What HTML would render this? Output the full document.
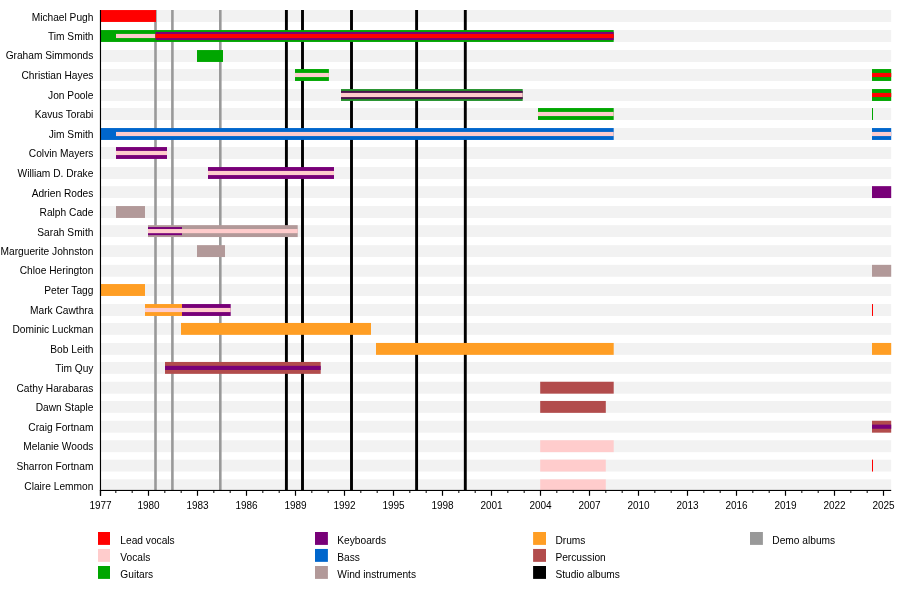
<!DOCTYPE html>
<html><head><meta charset="utf-8"><title>Timeline</title>
<style>
html,body{margin:0;padding:0;background:#fff}
body{width:900px;height:590px;position:relative;overflow:hidden;font-family:"Liberation Sans",sans-serif;font-size:10.2px;color:#000;line-height:12px}
.n{position:absolute;left:0;width:93.4px;text-align:right;white-space:nowrap;height:12px}
.y{font-size:10px;position:absolute;top:500.2px;width:40px;text-align:center;height:12px}
.l{font-size:10.2px;position:absolute;white-space:nowrap;height:12px}
</style></head><body>
<svg width="900" height="590" viewBox="0 0 900 590" style="position:absolute;left:0;top:0">
<rect x="100" y="10.05" width="791.20" height="11.90" fill="#f2f2f2"/>
<rect x="100" y="30.05" width="791.20" height="11.90" fill="#f2f2f2"/>
<rect x="100" y="50.05" width="791.20" height="11.90" fill="#f2f2f2"/>
<rect x="100" y="69.05" width="791.20" height="11.90" fill="#f2f2f2"/>
<rect x="100" y="89.05" width="791.20" height="11.90" fill="#f2f2f2"/>
<rect x="100" y="108.05" width="791.20" height="11.90" fill="#f2f2f2"/>
<rect x="100" y="128.05" width="791.20" height="11.90" fill="#f2f2f2"/>
<rect x="100" y="147.05" width="791.20" height="11.90" fill="#f2f2f2"/>
<rect x="100" y="167.05" width="791.20" height="11.90" fill="#f2f2f2"/>
<rect x="100" y="186.15" width="791.20" height="11.90" fill="#f2f2f2"/>
<rect x="100" y="206.05" width="791.20" height="11.90" fill="#f2f2f2"/>
<rect x="100" y="225.15" width="791.20" height="11.90" fill="#f2f2f2"/>
<rect x="100" y="245.15" width="791.20" height="11.90" fill="#f2f2f2"/>
<rect x="100" y="264.85" width="791.20" height="11.90" fill="#f2f2f2"/>
<rect x="100" y="284.05" width="791.20" height="11.90" fill="#f2f2f2"/>
<rect x="100" y="304.05" width="791.20" height="11.90" fill="#f2f2f2"/>
<rect x="100" y="322.95" width="791.20" height="11.90" fill="#f2f2f2"/>
<rect x="100" y="342.95" width="791.20" height="11.90" fill="#f2f2f2"/>
<rect x="100" y="361.95" width="791.20" height="11.90" fill="#f2f2f2"/>
<rect x="100" y="381.75" width="791.20" height="11.90" fill="#f2f2f2"/>
<rect x="100" y="400.95" width="791.20" height="11.90" fill="#f2f2f2"/>
<rect x="100" y="420.75" width="791.20" height="11.90" fill="#f2f2f2"/>
<rect x="100" y="440.25" width="791.20" height="11.90" fill="#f2f2f2"/>
<rect x="100" y="459.65" width="791.20" height="11.90" fill="#f2f2f2"/>
<rect x="100" y="479.35" width="791.20" height="10.65" fill="#f2f2f2"/>
<rect x="154.20" y="10.0" width="2.6" height="480.0" fill="#999999"/>
<rect x="171.10" y="10.0" width="2.6" height="480.0" fill="#999999"/>
<rect x="219.00" y="10.0" width="2.6" height="480.0" fill="#999999"/>
<rect x="284.95" y="10.0" width="2.9" height="480.0" fill="#000"/>
<rect x="301.05" y="10.0" width="2.9" height="480.0" fill="#000"/>
<rect x="350.05" y="10.0" width="2.9" height="480.0" fill="#000"/>
<rect x="415.15" y="10.0" width="2.9" height="480.0" fill="#000"/>
<rect x="463.85" y="10.0" width="2.9" height="480.0" fill="#000"/>
<rect x="100.00" y="10.05" width="56.00" height="11.90" fill="#ff0000"/>
<rect x="100.00" y="30.05" width="513.70" height="11.90" fill="#00a600"/>
<rect x="116.00" y="33.92" width="39.50" height="4.15" fill="#ffcccc"/>
<rect x="155.50" y="31.95" width="458.20" height="8.10" fill="#780078"/>
<rect x="155.50" y="33.92" width="458.20" height="4.15" fill="#ff0000"/>
<rect x="197.00" y="50.05" width="26.00" height="11.90" fill="#00a600"/>
<rect x="295.00" y="69.05" width="33.90" height="11.90" fill="#00a600"/>
<rect x="295.00" y="72.92" width="33.90" height="4.15" fill="#ffcccc"/>
<rect x="872.00" y="69.05" width="19.20" height="11.90" fill="#00a600"/>
<rect x="872.00" y="72.92" width="19.20" height="4.15" fill="#ff0000"/>
<rect x="341.00" y="89.05" width="181.70" height="11.90" fill="#22902a"/>
<rect x="341.00" y="90.95" width="181.70" height="8.10" fill="#4b154b"/>
<rect x="341.00" y="92.92" width="181.70" height="4.15" fill="#ffcccc"/>
<rect x="872.00" y="89.05" width="19.20" height="11.90" fill="#00a600"/>
<rect x="872.00" y="92.92" width="19.20" height="4.15" fill="#ff0000"/>
<rect x="538.00" y="108.05" width="75.70" height="11.90" fill="#00a600"/>
<rect x="538.00" y="111.92" width="75.70" height="4.15" fill="#ffcccc"/>
<rect x="872.00" y="108.05" width="1.00" height="11.90" fill="#00a600"/>
<rect x="100.00" y="128.05" width="513.70" height="11.90" fill="#0066cc"/>
<rect x="116.00" y="131.93" width="497.70" height="4.15" fill="#ffcccc"/>
<rect x="872.00" y="128.05" width="19.20" height="11.90" fill="#0066cc"/>
<rect x="872.00" y="131.93" width="19.20" height="4.15" fill="#ffcccc"/>
<rect x="116.00" y="147.05" width="51.00" height="11.90" fill="#780078"/>
<rect x="116.00" y="150.93" width="51.00" height="4.15" fill="#ffcccc"/>
<rect x="208.00" y="167.05" width="126.00" height="11.90" fill="#780078"/>
<rect x="208.00" y="170.93" width="126.00" height="4.15" fill="#ffcccc"/>
<rect x="872.00" y="186.15" width="19.20" height="11.90" fill="#780078"/>
<rect x="116.00" y="206.05" width="29.00" height="11.90" fill="#b29999"/>
<rect x="148.00" y="225.15" width="149.70" height="11.90" fill="#b29999"/>
<rect x="148.00" y="227.05" width="34.00" height="8.10" fill="#780078"/>
<rect x="148.00" y="229.03" width="149.70" height="4.15" fill="#ffcccc"/>
<rect x="197.00" y="245.15" width="28.00" height="11.90" fill="#b29999"/>
<rect x="872.00" y="264.85" width="19.20" height="11.90" fill="#b29999"/>
<rect x="100.00" y="284.05" width="45.00" height="11.90" fill="#ff9e24"/>
<rect x="145.00" y="304.05" width="37.00" height="11.90" fill="#ff9e24"/>
<rect x="182.00" y="304.05" width="48.70" height="11.90" fill="#780078"/>
<rect x="145.00" y="307.93" width="85.70" height="4.15" fill="#ffcccc"/>
<rect x="872.00" y="304.05" width="1.00" height="11.90" fill="#ff0000"/>
<rect x="181.00" y="322.95" width="190.00" height="11.90" fill="#ff9e24"/>
<rect x="376.00" y="342.95" width="237.70" height="11.90" fill="#ff9e24"/>
<rect x="872.00" y="342.95" width="19.20" height="11.90" fill="#ff9e24"/>
<rect x="165.00" y="361.95" width="155.70" height="11.90" fill="#b24c4c"/>
<rect x="165.00" y="365.82" width="155.70" height="4.15" fill="#780078"/>
<rect x="540.20" y="381.75" width="73.50" height="11.90" fill="#b24c4c"/>
<rect x="540.20" y="400.95" width="65.60" height="11.90" fill="#b24c4c"/>
<rect x="872.00" y="420.75" width="19.20" height="11.90" fill="#b24c4c"/>
<rect x="872.00" y="424.62" width="19.20" height="4.15" fill="#780078"/>
<rect x="540.20" y="440.25" width="73.50" height="11.90" fill="#ffcccc"/>
<rect x="540.20" y="459.65" width="65.60" height="11.90" fill="#ffcccc"/>
<rect x="872.00" y="459.65" width="1.00" height="11.90" fill="#ff0000"/>
<rect x="540.20" y="479.35" width="65.60" height="10.65" fill="#ffcccc"/>
<rect x="99.9" y="10.0" width="1.15" height="485.8" fill="#000"/>
<rect x="99.9" y="489.9" width="791.30" height="1.1" fill="#000"/>
<rect x="99.90" y="490.0" width="1.2" height="5.8" fill="#000"/>
<rect x="115.33" y="490.0" width="1.0" height="3.0" fill="#000"/>
<rect x="131.67" y="490.0" width="1.0" height="3.0" fill="#000"/>
<rect x="147.90" y="490.0" width="1.2" height="5.8" fill="#000"/>
<rect x="164.33" y="490.0" width="1.0" height="3.0" fill="#000"/>
<rect x="180.67" y="490.0" width="1.0" height="3.0" fill="#000"/>
<rect x="196.90" y="490.0" width="1.2" height="5.8" fill="#000"/>
<rect x="213.33" y="490.0" width="1.0" height="3.0" fill="#000"/>
<rect x="229.67" y="490.0" width="1.0" height="3.0" fill="#000"/>
<rect x="245.90" y="490.0" width="1.2" height="5.8" fill="#000"/>
<rect x="262.33" y="490.0" width="1.0" height="3.0" fill="#000"/>
<rect x="278.67" y="490.0" width="1.0" height="3.0" fill="#000"/>
<rect x="294.90" y="490.0" width="1.2" height="5.8" fill="#000"/>
<rect x="311.33" y="490.0" width="1.0" height="3.0" fill="#000"/>
<rect x="327.67" y="490.0" width="1.0" height="3.0" fill="#000"/>
<rect x="343.90" y="490.0" width="1.2" height="5.8" fill="#000"/>
<rect x="360.33" y="490.0" width="1.0" height="3.0" fill="#000"/>
<rect x="376.67" y="490.0" width="1.0" height="3.0" fill="#000"/>
<rect x="392.90" y="490.0" width="1.2" height="5.8" fill="#000"/>
<rect x="409.33" y="490.0" width="1.0" height="3.0" fill="#000"/>
<rect x="425.67" y="490.0" width="1.0" height="3.0" fill="#000"/>
<rect x="441.90" y="490.0" width="1.2" height="5.8" fill="#000"/>
<rect x="458.33" y="490.0" width="1.0" height="3.0" fill="#000"/>
<rect x="474.67" y="490.0" width="1.0" height="3.0" fill="#000"/>
<rect x="490.90" y="490.0" width="1.2" height="5.8" fill="#000"/>
<rect x="507.33" y="490.0" width="1.0" height="3.0" fill="#000"/>
<rect x="523.67" y="490.0" width="1.0" height="3.0" fill="#000"/>
<rect x="539.90" y="490.0" width="1.2" height="5.8" fill="#000"/>
<rect x="556.33" y="490.0" width="1.0" height="3.0" fill="#000"/>
<rect x="572.67" y="490.0" width="1.0" height="3.0" fill="#000"/>
<rect x="588.90" y="490.0" width="1.2" height="5.8" fill="#000"/>
<rect x="605.33" y="490.0" width="1.0" height="3.0" fill="#000"/>
<rect x="621.67" y="490.0" width="1.0" height="3.0" fill="#000"/>
<rect x="637.90" y="490.0" width="1.2" height="5.8" fill="#000"/>
<rect x="654.33" y="490.0" width="1.0" height="3.0" fill="#000"/>
<rect x="670.67" y="490.0" width="1.0" height="3.0" fill="#000"/>
<rect x="686.90" y="490.0" width="1.2" height="5.8" fill="#000"/>
<rect x="703.33" y="490.0" width="1.0" height="3.0" fill="#000"/>
<rect x="719.67" y="490.0" width="1.0" height="3.0" fill="#000"/>
<rect x="735.90" y="490.0" width="1.2" height="5.8" fill="#000"/>
<rect x="752.33" y="490.0" width="1.0" height="3.0" fill="#000"/>
<rect x="768.67" y="490.0" width="1.0" height="3.0" fill="#000"/>
<rect x="784.90" y="490.0" width="1.2" height="5.8" fill="#000"/>
<rect x="801.33" y="490.0" width="1.0" height="3.0" fill="#000"/>
<rect x="817.67" y="490.0" width="1.0" height="3.0" fill="#000"/>
<rect x="833.90" y="490.0" width="1.2" height="5.8" fill="#000"/>
<rect x="850.33" y="490.0" width="1.0" height="3.0" fill="#000"/>
<rect x="866.67" y="490.0" width="1.0" height="3.0" fill="#000"/>
<rect x="882.90" y="490.0" width="1.2" height="5.8" fill="#000"/>
<rect x="98.00" y="532.00" width="12.0" height="12.9" fill="#ff0000"/>
<rect x="98.00" y="548.95" width="12.0" height="12.9" fill="#ffcccc"/>
<rect x="98.00" y="566.00" width="12.0" height="12.9" fill="#00a600"/>
<rect x="315.00" y="532.00" width="12.9" height="12.9" fill="#780078"/>
<rect x="315.00" y="548.95" width="12.9" height="12.9" fill="#0066cc"/>
<rect x="315.00" y="566.00" width="12.9" height="12.9" fill="#b29999"/>
<rect x="533.10" y="532.00" width="12.9" height="12.9" fill="#ff9e24"/>
<rect x="533.10" y="548.95" width="12.9" height="12.9" fill="#b24c4c"/>
<rect x="533.10" y="566.00" width="12.9" height="12.9" fill="#000000"/>
<rect x="750.00" y="532.00" width="12.9" height="12.9" fill="#999999"/>
</svg>
<div id="txt" style="position:absolute;left:0;top:0;width:900px;height:590px;will-change:transform;transform:translateZ(0)">
<div class="n" style="top:11.70px">Michael Pugh</div>
<div class="n" style="top:30.70px">Tim Smith</div>
<div class="n" style="top:49.70px">Graham Simmonds</div>
<div class="n" style="top:69.70px">Christian Hayes</div>
<div class="n" style="top:89.70px">Jon Poole</div>
<div class="n" style="top:108.70px">Kavus Torabi</div>
<div class="n" style="top:128.70px">Jim Smith</div>
<div class="n" style="top:147.70px">Colvin Mayers</div>
<div class="n" style="top:167.70px">William D. Drake</div>
<div class="n" style="top:187.70px">Adrien Rodes</div>
<div class="n" style="top:206.70px">Ralph Cade</div>
<div class="n" style="top:226.70px">Sarah Smith</div>
<div class="n" style="top:245.70px">Marguerite Johnston</div>
<div class="n" style="top:264.70px">Chloe Herington</div>
<div class="n" style="top:284.70px">Peter Tagg</div>
<div class="n" style="top:304.70px">Mark Cawthra</div>
<div class="n" style="top:323.70px">Dominic Luckman</div>
<div class="n" style="top:343.70px">Bob Leith</div>
<div class="n" style="top:362.70px">Tim Quy</div>
<div class="n" style="top:382.70px">Cathy Harabaras</div>
<div class="n" style="top:401.70px">Dawn Staple</div>
<div class="n" style="top:421.70px">Craig Fortnam</div>
<div class="n" style="top:440.70px">Melanie Woods</div>
<div class="n" style="top:460.70px">Sharron Fortnam</div>
<div class="n" style="top:480.70px">Claire Lemmon</div>
<div class="y" style="left:80.50px">1977</div>
<div class="y" style="left:128.50px">1980</div>
<div class="y" style="left:177.50px">1983</div>
<div class="y" style="left:226.50px">1986</div>
<div class="y" style="left:275.50px">1989</div>
<div class="y" style="left:324.50px">1992</div>
<div class="y" style="left:373.50px">1995</div>
<div class="y" style="left:422.50px">1998</div>
<div class="y" style="left:471.50px">2001</div>
<div class="y" style="left:520.50px">2004</div>
<div class="y" style="left:569.50px">2007</div>
<div class="y" style="left:618.50px">2010</div>
<div class="y" style="left:667.50px">2013</div>
<div class="y" style="left:716.50px">2016</div>
<div class="y" style="left:765.50px">2019</div>
<div class="y" style="left:814.50px">2022</div>
<div class="y" style="left:863.50px">2025</div>
<div class="l" style="left:120.30px;top:535.25px">Lead vocals</div>
<div class="l" style="left:120.30px;top:552.20px">Vocals</div>
<div class="l" style="left:120.30px;top:569.25px">Guitars</div>
<div class="l" style="left:337.30px;top:535.25px">Keyboards</div>
<div class="l" style="left:337.30px;top:552.20px">Bass</div>
<div class="l" style="left:337.30px;top:569.25px">Wind instruments</div>
<div class="l" style="left:555.40px;top:535.25px">Drums</div>
<div class="l" style="left:555.40px;top:552.20px">Percussion</div>
<div class="l" style="left:555.40px;top:569.25px">Studio albums</div>
<div class="l" style="left:772.30px;top:535.25px">Demo albums</div>
</div>
</body></html>
